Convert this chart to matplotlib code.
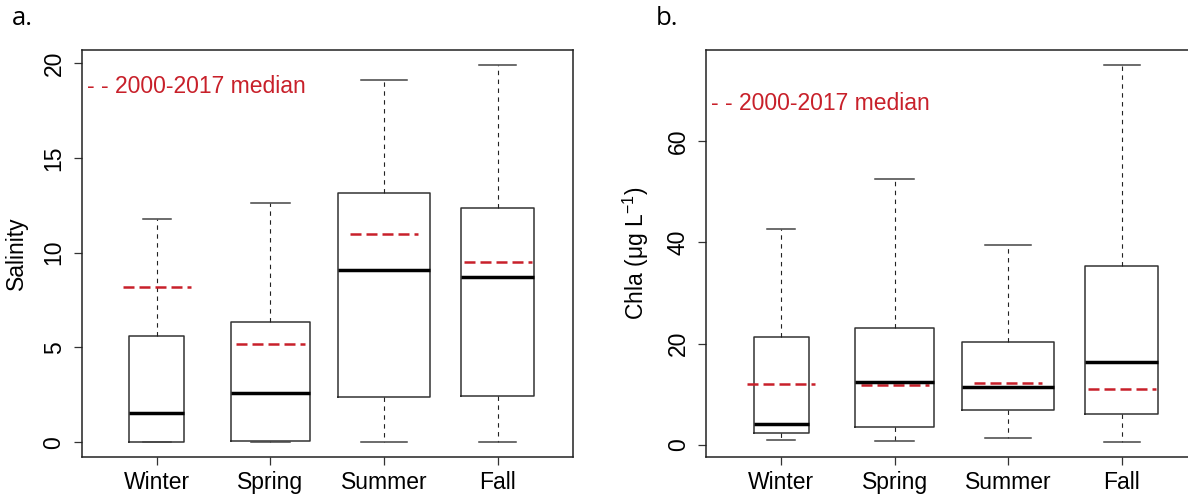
import numpy as np
import matplotlib.pyplot as plt

plt.rcParams['font.family'] = ['Liberation Sans', 'DejaVu Sans']
plt.rcParams['mathtext.fontset'] = 'custom'
plt.rcParams['mathtext.rm'] = 'Liberation Sans'

seasons = ['Winter', 'Spring', 'Summer', 'Fall']
box_widths = [0.484, 0.69, 0.806, 0.643]   # varwidth boxes

# salinity
sal_low = [0.0, 0.03, 0.02, 0.02]
sal_q1 = [0.0, 0.07, 2.38, 2.43]
sal_med = [1.55, 2.6, 9.09, 8.7]
sal_q3 = [5.63, 6.32, 13.16, 12.35]
sal_high = [11.79, 12.61, 19.11, 19.9]
sal_longterm = [8.17, 5.16, 11.01, 9.53]

# chlorophyll a
chl_low = [0.93, 0.73, 1.33, 0.53]
chl_q1 = [2.32, 3.44, 6.8, 6.08]
chl_med = [4.16, 12.35, 11.43, 16.38]
chl_q3 = [21.27, 23.17, 20.34, 35.4]
chl_high = [42.65, 52.48, 39.5, 75.05]
chl_longterm = [12.02, 11.9, 12.15, 10.97]

RED = '#c8202a'
FS = 16.5

fig = plt.figure(figsize=(11.88, 4.97), dpi=100)
ax_a = fig.add_axes([0.0689, 0.0799, 0.4132, 0.8195])
ax_b = fig.add_axes([0.5943, 0.0799, 0.4132, 0.8195])


def draw_panel(ax, low, q1, med, q3, high, longterm, yticks, ylabel, label_x, letter, letter_x, leg_y):
    stats = []
    for i in range(len(seasons)):
        stats.append(dict(whislo=low[i], q1=q1[i], med=med[i], q3=q3[i],
                          whishi=high[i], fliers=[], label=seasons[i]))
    pos = np.arange(1, len(seasons) + 1)
    ax.bxp(stats, positions=pos, widths=box_widths,
           capwidths=[w * 0.5 for w in box_widths], showfliers=False,
           boxprops=dict(color='#333333', linewidth=1.1),
           whiskerprops=dict(color='#222222', linewidth=0.8, linestyle=(0, (4, 4))),
           capprops=dict(color='#444444', linewidth=1.1),
           medianprops=dict(color='black', linewidth=2.5, solid_capstyle='butt'))
    ax.hlines(longterm, pos - 0.3, pos + 0.3, colors=RED, linewidth=1.8,
              linestyles=(0, (4.4, 2.0)))

    lo, hi = min(low), max(high)
    rng = hi - lo
    ax.set_ylim(lo - 0.04 * rng, hi + 0.04 * rng)
    ax.set_xlim(0.34, len(seasons) + 0.66)
    ax.set_yticks(yticks)
    ax.set_yticklabels([str(t) for t in yticks], rotation=90, va='center')
    ax.set_xticks(pos)
    ax.set_xticklabels(seasons)
    ax.tick_params(axis='both', labelsize=FS, length=6.1, width=0.9, color='#333333')
    ax.tick_params(axis='x', pad=3.5)
    ax.tick_params(axis='y', pad=5.6)
    for s in ax.spines.values():
        s.set_linewidth(1.1)
        s.set_color('#222222')

    ax.text(0.011, leg_y, '- - 2000-2017 median', color=RED, fontsize=FS,
            transform=ax.transAxes, ha='left', va='center')
    fig.text(label_x, 0.49, ylabel, rotation=90, ha='center', va='center', fontsize=FS)
    fig.text(letter_x, 0.962, letter, fontsize=18.5, family='Open Sans', ha='left', va='center')


draw_panel(ax_a, sal_low, sal_q1, sal_med, sal_q3, sal_high, sal_longterm,
           [0, 5, 10, 15, 20], 'Salinity', 0.0135, 'a.', 0.010, 0.9116)
draw_panel(ax_b, chl_low, chl_q1, chl_med, chl_q3, chl_high, chl_longterm,
           [0, 20, 40, 60], 'Chla (\u03bcg L$^{-1}$)', 0.5354, 'b.', 0.552, 0.869)

fig.savefig('out.png', dpi=100)
